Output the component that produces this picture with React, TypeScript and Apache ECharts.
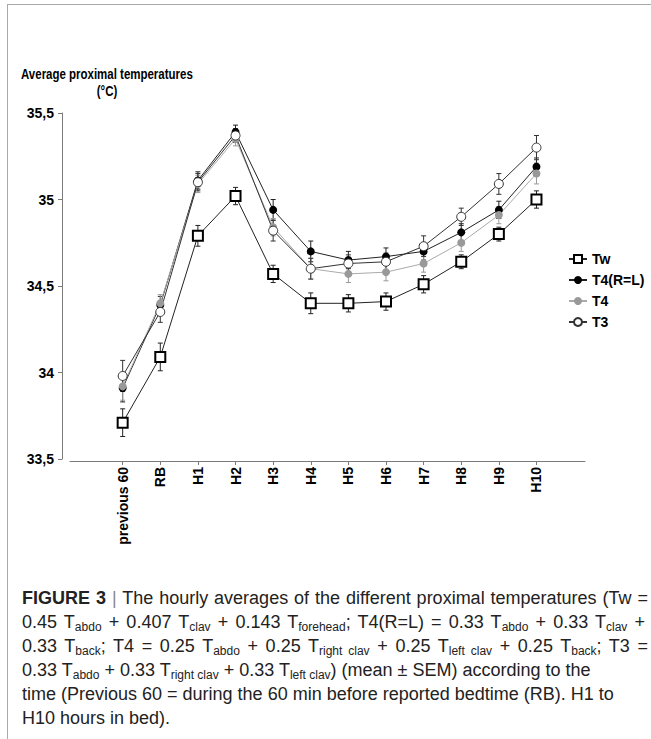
import React, { useEffect, useRef } from "react";
import * as echarts from "echarts";

const categories = ["previous 60", "RB", "H1", "H2", "H3", "H4", "H5", "H6", "H7", "H8", "H9", "H10"];
const seriesNames = ["Tw", "T4(R=L)", "T4", "T3"];

const tw = [33.71, 34.09, 34.79, 35.02, 34.57, 34.4, 34.4, 34.41, 34.51, 34.64, 34.8, 35.0];
const twErr = [0.08, 0.08, 0.06, 0.05, 0.05, 0.06, 0.05, 0.05, 0.05, 0.04, 0.04, 0.05];
const t4rl = [33.91, 34.39, 35.11, 35.39, 34.94, 34.7, 34.65, 34.67, 34.7, 34.81, 34.94, 35.19];
const t4rlErr = [0.08, 0.05, 0.05, 0.04, 0.06, 0.06, 0.05, 0.05, 0.05, 0.05, 0.05, 0.05];
const t4 = [33.92, 34.4, 35.09, 35.35, 34.84, 34.6, 34.57, 34.58, 34.63, 34.75, 34.91, 35.15];
const t4Err = [0.08, 0.05, 0.05, 0.04, 0.05, 0.06, 0.05, 0.05, 0.05, 0.05, 0.05, 0.06];
const t3 = [33.98, 34.35, 35.1, 35.37, 34.82, 34.6, 34.63, 34.64, 34.73, 34.9, 35.09, 35.3];
const t3Err = [0.09, 0.06, 0.05, 0.04, 0.06, 0.06, 0.05, 0.05, 0.06, 0.05, 0.06, 0.07];

const yMin = 33.5;
const yMax = 35.5;
const yStep = 0.5;

const FONT = "'Liberation Sans', Arial, sans-serif";
const indices = categories.map((_, i) => i);

function pts(vals: number[]) {
  return vals.map((v, i) => [i, v]);
}
function errPts(vals: number[], errs: number[]) {
  return vals.map((v, i) => [i, v - errs[i], v + errs[i]]);
}

function errorSeries(vals: number[], errs: number[], color: string) {
  return {
    type: "custom",
    silent: true,
    z: 1,
    encode: { x: 0, y: [1, 2] },
    data: errPts(vals, errs),
    renderItem: (params: any, api: any) => {
      const x = api.value(0);
      const lo = api.coord([x, api.value(1)]);
      const hi = api.coord([x, api.value(2)]);
      const cap = 2.5;
      const st = { stroke: color, lineWidth: 1 };
      return {
        type: "group",
        children: [
          { type: "line", shape: { x1: lo[0], y1: lo[1], x2: hi[0], y2: hi[1] }, style: st },
          { type: "line", shape: { x1: lo[0] - cap, y1: lo[1], x2: lo[0] + cap, y2: lo[1] }, style: st },
          { type: "line", shape: { x1: hi[0] - cap, y1: hi[1], x2: hi[0] + cap, y2: hi[1] }, style: st },
        ],
      };
    },
  };
}

function buildOption() {
  return {
    animation: false,
    backgroundColor: "#ffffff",
    grid: { left: 70, top: 113, right: 651 - 585, bottom: 739 - 459, containLabel: false },
    legend: {
      data: seriesNames,
      orient: "vertical",
      left: 563,
      top: 247,
      itemWidth: 18,
      itemHeight: 10,
      itemGap: 7,
      textStyle: { fontSize: 14, fontWeight: "bold", fontFamily: FONT, color: "#000", padding: [0, 0, 0, 0] },
    },
    xAxis: {
      type: "value",
      min: -1.4,
      max: 12.29,
      offset: 2,
      splitLine: { show: false },
      axisLine: { show: true, onZero: false, lineStyle: { color: "#7a7a7a", width: 1 } },
      axisTick: { show: true, length: 4, customValues: indices, lineStyle: { color: "#7a7a7a" } },
      axisLabel: {
        customValues: indices,
        rotate: 90,
        margin: 6,
        fontSize: 14,
        fontWeight: "bold",
        fontFamily: FONT,
        color: "#000",
        formatter: (v: number) => categories[Math.round(v)] ?? "",
      },
    },
    yAxis: {
      type: "value",
      min: yMin,
      max: yMax,
      interval: yStep,
      offset: 8,
      splitLine: { show: false },
      axisLine: { show: true, onZero: false, lineStyle: { color: "#7a7a7a", width: 1 } },
      axisTick: { show: true, length: 4, lineStyle: { color: "#7a7a7a" } },
      axisLabel: {
        margin: 8,
        fontSize: 14,
        fontWeight: "bold",
        fontFamily: FONT,
        color: "#000",
        formatter: (v: number) => String(v).replace(".", ","),
      },
    },
    graphic: [
      {
        type: "text",
        x: 21,
        y: 74,
        scaleX: 0.82,
        style: {
          text: "Average proximal temperatures",
          x: 0,
          y: 0,
          fontSize: 14,
          fontWeight: "bold",
          fontFamily: FONT,
          fill: "#000",
          textVerticalAlign: "middle",
          textAlign: "left",
        },
      },
      {
        type: "text",
        x: 107,
        y: 91,
        scaleX: 0.82,
        style: {
          text: "(°C)",
          x: 0,
          y: 0,
          fontSize: 14,
          fontWeight: "bold",
          fontFamily: FONT,
          fill: "#000",
          textVerticalAlign: "middle",
          textAlign: "center",
        },
      },
    ],
    series: [
      errorSeries(tw, twErr, "#222"),
      errorSeries(t4rl, t4rlErr, "#222"),
      errorSeries(t4, t4Err, "#999"),
      errorSeries(t3, t3Err, "#333"),
      {
        name: "Tw",
        type: "line",
        z: 5,
        data: pts(tw),
        symbol: "rect",
        symbolSize: 10,
        lineStyle: { color: "#222", width: 1 },
        itemStyle: { color: "#fff", borderColor: "#000", borderWidth: 2 },
      },
      {
        name: "T4(R=L)",
        type: "line",
        z: 5,
        data: pts(t4rl),
        symbol: "circle",
        symbolSize: 8,
        lineStyle: { color: "#222", width: 1 },
        itemStyle: { color: "#000", borderColor: "#000", borderWidth: 0 },
      },
      {
        name: "T4",
        type: "line",
        z: 5,
        data: pts(t4),
        symbol: "circle",
        symbolSize: 8,
        lineStyle: { color: "#aaa", width: 1 },
        itemStyle: { color: "#999", borderColor: "#999", borderWidth: 0 },
      },
      {
        name: "T3",
        type: "line",
        z: 5,
        data: pts(t3),
        symbol: "circle",
        symbolSize: 9,
        lineStyle: { color: "#333", width: 1 },
        itemStyle: { color: "#fff", borderColor: "#333", borderWidth: 1 },
      },
    ],
  };
}

const subStyle: React.CSSProperties = { fontSize: 12, verticalAlign: "-3px", lineHeight: 0 };
const S = (t: string) => <span style={subStyle}>{t}</span>;

export default function App() {
  const ref = useRef<HTMLDivElement>(null);
  useEffect(() => {
    if (!ref.current) return;
    const chart = echarts.init(ref.current, null, { renderer: "svg" });
    chart.setOption(buildOption() as any);
    return () => chart.dispose();
  }, []);

  const lineStyle: React.CSSProperties = { height: 24, lineHeight: "24px", whiteSpace: "nowrap" };
  const just = (w: number): React.CSSProperties => ({
    ...lineStyle,
    width: w,
    textAlign: "justify",
    textAlignLast: "justify" as any,
  });

  return (
    <div style={{ position: "fixed", left: 0, top: 0, width: 651, height: 739, background: "#fff", overflow: "hidden" }}>
      <div ref={ref} style={{ position: "absolute", left: 0, top: 0, width: 651, height: 739 }} />
      <div
        style={{
          position: "absolute",
          left: 7,
          top: 4,
          width: 700,
          height: 800,
          borderLeft: "1px solid #aaa",
          borderTop: "1px solid #aaa",
          pointerEvents: "none",
        }}
      />
      <div
        style={{
          position: "absolute",
          left: 22,
          top: 586,
          fontFamily: FONT,
          fontSize: 18,
          color: "#222",
        }}
      >
        <div style={just(626)}>
          <b>FIGURE 3</b> <span style={{ color: "#888" }}>|</span> The hourly averages of the different proximal temperatures (Tw =
        </div>
        <div style={just(623)}>
          0.45 T{S("abdo")} + 0.407 T{S("clav")} + 0.143 T{S("forehead")}; T4(R=L) = 0.33 T{S("abdo")} + 0.33 T{S("clav")} +
        </div>
        <div style={just(626)}>
          0.33 T{S("back")}; T4 = 0.25 T{S("abdo")} + 0.25 T{S("right clav")} + 0.25 T{S("left clav")} + 0.25 T{S("back")}; T3 =
        </div>
        <div style={lineStyle}>
          0.33 T{S("abdo")} + 0.33 T{S("right clav")} + 0.33 T{S("left clav")}) (mean ± SEM) according to the
        </div>
        <div style={lineStyle}>time (Previous 60 = during the 60 min before reported bedtime (RB). H1 to</div>
        <div style={lineStyle}>H10 hours in bed).</div>
      </div>
    </div>
  );
}
